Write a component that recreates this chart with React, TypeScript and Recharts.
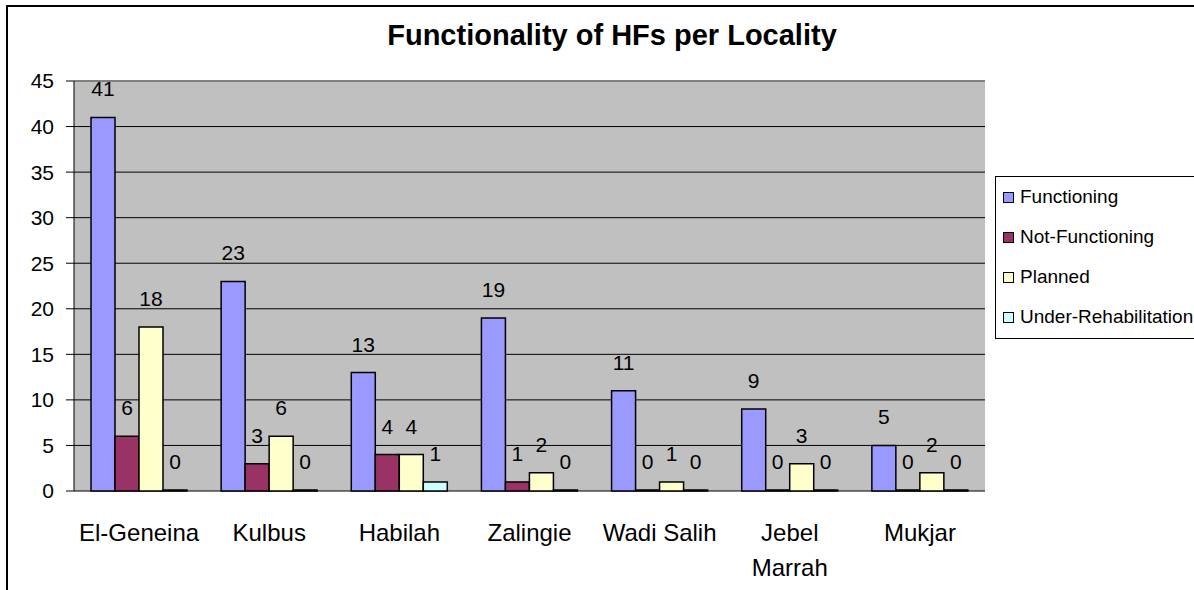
import {
  Bar,
  BarChart,
  CartesianGrid,
  LabelList,
  Legend,
  ReferenceLine,
  XAxis,
  YAxis,
} from "recharts";

const localities = [
  "El-Geneina",
  "Kulbus",
  "Habilah",
  "Zalingie",
  "Wadi Salih",
  "Jebel Marrah",
  "Mukjar",
];
const functioning = [41, 23, 13, 19, 11, 9, 5];
const notFunctioning = [6, 3, 4, 1, 0, 0, 0];
const planned = [18, 6, 4, 2, 1, 3, 2];
const underRehab = [0, 0, 1, 0, 0, 0, 0];
const yTicks = [0, 5, 10, 15, 20, 25, 30, 35, 40, 45];
const edgeTicks = [0, 1, 2, 3, 4, 5, 6, 7];

const series = [
  { key: "functioning", name: "Functioning", color: "#9999FF" },
  { key: "notFunctioning", name: "Not-Functioning", color: "#993366" },
  { key: "planned", name: "Planned", color: "#FFFFCC" },
  { key: "underRehab", name: "Under-Rehabilitation", color: "#CCFFFF" },
];

const data = localities.map((name, i) => ({
  name,
  functioning: functioning[i],
  notFunctioning: notFunctioning[i],
  planned: planned[i],
  underRehab: underRehab[i],
}));

const FONT = "'Liberation Sans', Arial, sans-serif";

function CategoryTick({ x, y, payload }: any) {
  const label: string = payload.value;
  // long names wrap onto two lines like the original
  const lines = label.length > 10 ? label.split(" ") : [label];
  return (
    <text x={x} y={y} textAnchor="middle" fontSize={24} fill="#000" fontFamily={FONT}>
      {lines.map((l, i) => (
        <tspan key={i} x={x} dy={i === 0 ? 42 : 35}>
          {l}
        </tspan>
      ))}
    </text>
  );
}

function LegendBox() {
  return (
    <div
      style={{
        border: "1px solid #000",
        background: "#fff",
        width: 230,
        height: 163,
        boxSizing: "border-box",
        fontFamily: FONT,
        fontSize: 19,
      }}
    >
      {series.map((s) => (
        <div
          key={s.key}
          style={{ display: "flex", alignItems: "center", height: 40, paddingLeft: 7 }}
        >
          <span
            style={{
              width: 9,
              height: 9,
              background: s.color,
              border: "1.5px solid #000",
              marginRight: 6,
              flexShrink: 0,
            }}
          />
          <span style={{ whiteSpace: "nowrap" }}>{s.name}</span>
        </div>
      ))}
    </div>
  );
}

export default function App() {
  return (
    <div
      style={{
        position: "absolute",
        left: 0,
        top: 0,
        width: 1194,
        height: 590,
        overflow: "hidden",
        background: "#fff",
        fontFamily: FONT,
      }}
    >
      <div
        style={{
          position: "absolute",
          left: 6,
          top: 5,
          width: 1300,
          height: 700,
          borderLeft: "2px solid #000",
          borderTop: "2px solid #000",
        }}
      />
      <div
        style={{
          position: "absolute",
          left: 0,
          width: 1224,
          top: 19,
          textAlign: "center",
          fontWeight: "bold",
          fontSize: 29,
          color: "#000",
        }}
      >
        Functionality of HFs per Locality
      </div>
      <div style={{ position: "absolute", left: 0, top: 0 }}>
        <BarChart
          width={1194}
          height={590}
          data={data}
          margin={{ top: 81, right: 209, bottom: 0, left: 14 }}
          barCategoryGap={17}
          barGap={0}
        >
          <CartesianGrid
            xAxisId="cat"
            vertical={false}
            stroke="#000"
            fill="#C0C0C0"
            fillOpacity={1}
          />
          <XAxis
            xAxisId="edge"
            type="number"
            domain={[0, 7]}
            ticks={edgeTicks}
            height={0}
            tick={false}
            tickSize={8}
            tickLine={{ stroke: "#000" }}
            axisLine={{ stroke: "#000" }}
          />
          <XAxis
            xAxisId="cat"
            dataKey="name"
            interval={0}
            height={99}
            axisLine={false}
            tickLine={false}
            tick={<CategoryTick />}
          />
          <YAxis
            domain={[0, 45]}
            ticks={yTicks}
            width={60}
            tickSize={8}
            tickMargin={12}
            tickLine={{ stroke: "#000" }}
            axisLine={{ stroke: "#000" }}
            tick={{ fontSize: 21, fill: "#000", fontFamily: FONT }}
          />
          <YAxis
            yAxisId="r"
            orientation="right"
            domain={[0, 45]}
            width={0}
            tick={false}
            tickLine={false}
            axisLine={{ stroke: "#808080", strokeWidth: 2 }}
          />
          <ReferenceLine xAxisId="cat" y={45} stroke="#808080" strokeWidth={2} />
          <Legend
            layout="vertical"
            align="center"
            verticalAlign="middle"
            content={<LegendBox />}
            wrapperStyle={{ left: 995, top: 176, width: 230 }}
          />
          {series.map((s) => (
            <Bar
              key={s.key}
              xAxisId="cat"
              dataKey={s.key}
              name={s.name}
              fill={s.color}
              stroke="#000"
              strokeWidth={1.5}
              minPointSize={1}
              isAnimationActive={false}
            >
              <LabelList
                dataKey={s.key}
                position="top"
                offset={21}
                fontSize={21}
                fill="#000"
                fontFamily={FONT}
              />
            </Bar>
          ))}
        </BarChart>
      </div>
    </div>
  );
}
